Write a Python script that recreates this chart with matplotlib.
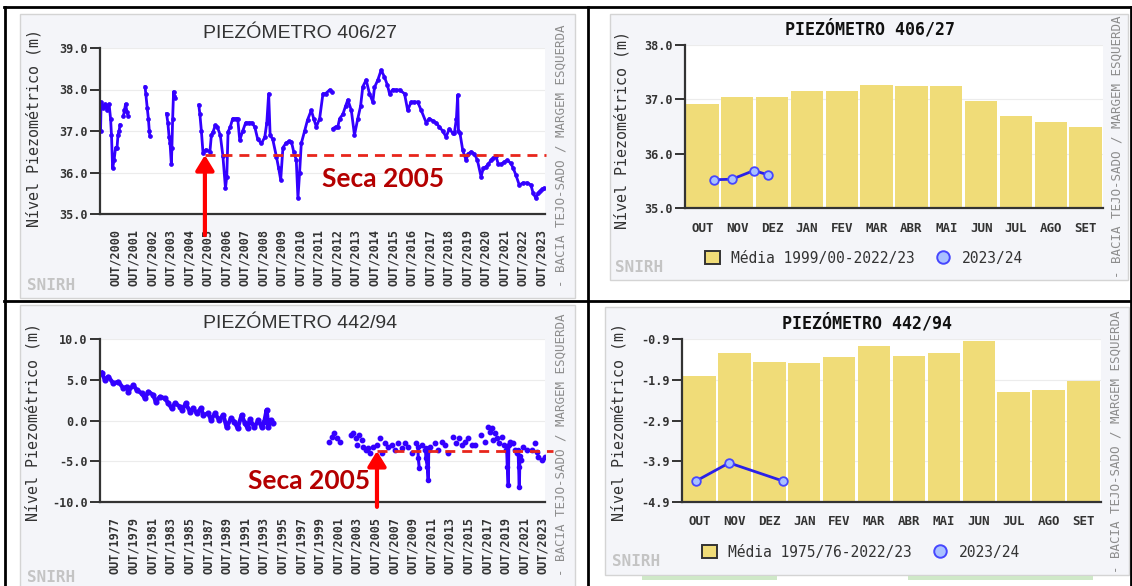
import matplotlib
matplotlib.use('Agg')
import matplotlib.pyplot as plt
from matplotlib.patches import Rectangle, Patch
from matplotlib.lines import Line2D

plt.rcParams['font.family'] = ['DejaVu Sans Mono']

# ---------------- DATA ----------------
# Piezometro 406/27 (time axis: value Y == OUT/Y)
p406_a_t = [1999.22, 1999.25, 1999.35, 1999.46, 1999.57, 1999.68, 1999.76, 1999.81, 1999.87, 1999.95, 2000.03, 2000.11, 2000.16, 2000.22, 2000.27]
p406_a_v = [37.0, 37.7, 37.55, 37.65, 37.5, 37.65, 37.3, 36.9, 36.1, 36.3, 36.6, 36.6, 36.9, 37.0, 37.15]
p406_b_t = [2000.45, 2000.51, 2000.57, 2000.65, 2000.72]
p406_b_v = [37.35, 37.5, 37.65, 37.45, 37.35]
p406_c_t = [2001.62, 2001.66, 2001.74, 2001.80, 2001.85, 2001.88]
p406_c_v = [38.07, 37.9, 37.55, 37.3, 37.0, 36.88]
p406_d_t = [2002.78, 2002.85, 2002.92, 2002.97, 2003.04, 2003.07, 2003.11, 2003.16, 2003.20, 2003.24]
p406_d_v = [37.42, 37.2, 36.85, 36.7, 36.2, 36.6, 37.3, 37.95, 37.85, 37.8]
p406_e_t = [2004.52, 2004.58, 2004.66, 2004.75, 2004.90, 2005.12, 2005.20, 2005.29, 2005.41, 2005.52,
            2005.68, 2005.82, 2005.96, 2006.03, 2006.10, 2006.22, 2006.35, 2006.52, 2006.62, 2006.73,
            2006.89, 2007.05, 2007.22, 2007.38, 2007.54, 2007.70, 2007.90, 2008.08, 2008.19, 2008.29,
            2008.37, 2008.51, 2008.71, 2008.83, 2008.94, 2009.06, 2009.21, 2009.37, 2009.52, 2009.64,
            2009.78, 2009.87, 2009.96, 2010.05, 2010.23, 2010.39, 2010.59, 2010.72, 2010.86, 2011.04,
            2011.22, 2011.36, 2011.58, 2011.69]
p406_e_v = [37.63, 37.4, 37.0, 36.46, 36.55, 36.5, 36.9, 36.98, 37.14, 37.1,
            36.9, 36.4, 35.62, 35.9, 36.98, 37.1, 37.3, 37.3, 37.3, 36.78,
            37.0, 37.2, 37.2, 37.2, 37.1, 36.8, 36.7, 36.85, 37.2, 37.9,
            36.9, 36.8, 36.38, 36.1, 35.82, 36.6, 36.7, 36.75, 36.74, 36.5,
            36.3, 35.38, 36.0, 36.7, 37.0, 37.27, 37.5, 37.3, 37.1, 37.3,
            37.9, 37.9, 37.99, 37.95]
p406_f_t = [2011.76, 2011.90, 2012.02, 2012.12, 2012.29, 2012.44, 2012.56, 2012.75, 2012.92, 2013.10,
            2013.25, 2013.37, 2013.55, 2013.73, 2013.91, 2014.00, 2014.18, 2014.36, 2014.54, 2014.70,
            2014.81, 2014.99, 2015.17, 2015.35, 2015.62, 2015.79, 2015.98, 2016.15, 2016.33, 2016.52,
            2016.79, 2016.96, 2017.14, 2017.32, 2017.50, 2017.68, 2017.86, 2018.04, 2018.22, 2018.31,
            2018.42, 2018.49, 2018.53, 2018.61, 2018.76, 2018.94, 2019.06, 2019.21, 2019.39, 2019.55,
            2019.75, 2019.87, 2020.02, 2020.14, 2020.29, 2020.41, 2020.55, 2020.68, 2020.82, 2021.00,
            2021.16, 2021.36, 2021.49, 2021.63, 2021.81, 2022.02, 2022.24, 2022.44, 2022.56, 2022.71,
            2022.83, 2022.94, 2023.05, 2023.16]
p406_f_v = [37.06, 37.1, 37.1, 37.3, 37.4, 37.6, 37.75, 37.5, 36.9, 37.3,
            37.6, 38.07, 38.23, 37.9, 37.7, 38.05, 38.23, 38.47, 38.3, 38.1,
            37.9, 38.0, 37.99, 37.99, 37.9, 37.5, 37.7, 37.7, 37.7, 37.5,
            37.2, 37.3, 37.25, 37.2, 37.1, 37.0, 36.86, 37.05, 36.95, 36.95,
            37.3, 37.87, 37.0, 36.95, 36.54, 36.3, 36.45, 36.5, 36.45, 36.3,
            35.9, 36.1, 36.14, 36.2, 36.3, 36.35, 36.4, 36.2, 36.2, 36.25,
            36.3, 36.22, 36.1, 35.94, 35.7, 35.75, 35.75, 35.7, 35.5, 35.38,
            35.5, 35.55, 35.6, 35.62]
p406_years = list(range(2000, 2024))
p406_seca = 36.42
p406_seca_start = 2004.85

# Piezometro 442/94
p442_a_t = [1975.57, 1975.92, 1976.28, 1976.82, 1977.36, 1977.90, 1978.25, 1978.43, 1978.97, 1979.33,
            1979.87, 1980.22, 1980.58, 1981.12, 1981.37, 1981.84, 1982.37, 1982.73, 1983.09, 1983.45,
            1983.99, 1984.24, 1984.60, 1985.06, 1985.42, 1985.78, 1986.24, 1986.49, 1987.03, 1987.32,
            1987.75, 1988.18, 1988.64, 1989.00, 1989.47, 1989.83, 1990.18, 1990.61, 1990.97, 1991.26,
            1991.51, 1991.98, 1992.41, 1992.77, 1993.05, 1993.30, 1993.48, 1993.73, 1994.02]
p442_a_v = [5.87, 4.97, 5.38, 4.56, 4.76, 3.95, 4.15, 3.54, 4.36, 3.74,
            3.33, 2.72, 3.54, 3.13, 2.31, 2.92, 2.72, 2.11, 1.49, 2.11,
            1.70, 1.29, 2.11, 1.08, 1.49, 0.88, 1.49, 0.67, 0.88, 0.06,
            0.88, 0.06, 0.67, -0.84, 0.27, -0.14, -0.96, 0.67, -0.35, -0.96,
            0.14, -0.84, 0.06, -0.84, -0.14, 1.29, -0.76, 0.06, -0.35]
p442_b_t = [2000.03, 2000.28, 2000.53, 2000.82, 2001.18, 2002.33, 2002.61, 2002.90, 2003.04, 2003.26,
            2003.51, 2003.69, 2003.97, 2004.23, 2004.40, 2004.76, 2005.12, 2005.48, 2005.66, 2006.02,
            2006.37, 2006.73, 2007.09, 2007.45, 2007.81, 2008.17, 2008.52, 2008.88, 2009.35, 2009.96,
            2010.32, 2010.85, 2011.39, 2011.75, 2012.11, 2012.47, 2012.82, 2013.36, 2013.65, 2014.00,
            2014.26, 2014.62, 2014.97, 2015.33, 2015.69, 2016.30, 2016.77, 2017.12, 2017.30, 2017.48,
            2017.66, 2017.84, 2018.09, 2018.31, 2018.56, 2018.81, 2019.02, 2019.45, 2019.74, 2019.99,
            2020.24, 2020.60, 2020.81, 2021.24, 2021.78, 2022.14, 2022.32, 2022.50, 2022.86, 2023.21]
p442_b_v = [-2.6, -1.98, -1.49, -2.19, -2.6, -1.78, -1.58, -2.19, -3.0, -1.78,
            -2.39, -3.21, -3.62, -3.42, -4.03, -3.21, -3.0, -2.19, -4.03, -2.8,
            -3.21, -3.0, -3.62, -2.8, -3.42, -2.8, -3.21, -4.03, -2.8, -3.0,
            -3.62, -3.21, -2.8, -3.62, -2.6, -3.0, -4.03, -1.98, -2.8, -2.19,
            -3.0, -2.6, -2.19, -3.0, -3.0, -1.78, -2.6, -0.76, -1.37, -0.96,
            -2.39, -1.58, -2.19, -2.8, -1.98, -3.0, -3.62, -2.6, -2.8, -3.62,
            -4.03, -4.85, -3.21, -3.62, -3.62, -2.8, -3.83, -4.44, -4.85, -4.44]
p442_dip1_t = [2009.55, 2009.60, 2009.71]
p442_dip1_v = [-3.2, -4.64, -5.87]
p442_dip2_t = [2010.38, 2010.42, 2010.57, 2010.67, 2010.72]
p442_dip2_v = [-3.4, -4.64, -5.66, -7.3, -3.6]
p442_dip3_t = [2019.10, 2019.17, 2019.27, 2019.33]
p442_dip3_v = [-3.3, -5.66, -7.92, -3.0]
p442_dip4_t = [2020.33, 2020.39, 2020.46, 2020.52]
p442_dip4_v = [-3.6, -5.66, -8.12, -4.4]
p442_years = list(range(1977, 2024, 2))
p442_seca = -3.74
p442_seca_start = 2005.16

months = ['OUT', 'NOV', 'DEZ', 'JAN', 'FEV', 'MAR', 'ABR', 'MAI', 'JUN', 'JUL', 'AGO', 'SET']
p406_media = [36.91, 37.05, 37.05, 37.16, 37.16, 37.26, 37.245, 37.245, 36.97, 36.69, 36.58, 36.50]
p406_obs_x = [0.33, 0.85, 1.48, 1.88]
p406_obs_v = [35.52, 35.53, 35.69, 35.61]
p442_media = [-1.80, -1.24, -1.457, -1.497, -1.35, -1.064, -1.317, -1.25, -0.95, -2.19, -2.15, -1.94]
p442_obs_x = [-0.10, 0.85, 2.39]
p442_obs_v = [-4.385, -3.94, -4.385]

# ---------------- STYLE ----------------
W, H = 1132, 586
PANEL = '#f4f5f9'
DARK = '#333333'
BLUE = '#3300ff'
BAR = '#f0dc78'
MONO = 'DejaVu Sans Mono'

fig = plt.figure(figsize=(W / 100, H / 100), dpi=100)
fig.patch.set_facecolor('white')


def frac(x0, y0, x1, y1):
    return [x0 / W, 1 - y1 / H, (x1 - x0) / W, (y1 - y0) / H]


def ftext(x, y, s, **kw):
    return fig.text(x / W, 1 - y / H, s, **kw)


bg = fig.add_axes([0, 0, 1, 1], zorder=0)
bg.set_xlim(0, W)
bg.set_ylim(H, 0)
bg.axis('off')

# panel backgrounds
for (x0, y0, x1, y1) in [(20, 14, 575, 298), (610, 14, 1128, 280), (20, 305, 575, 590), (605, 307, 1129, 575)]:
    bg.add_patch(Rectangle((x0, y0), x1 - x0, y1 - y0, facecolor=PANEL, edgecolor='#d4d4d4', lw=1))
# light green strip under bottom-right panel
for (x0, x1) in [(642, 777), (908, 1093)]:
    bg.add_patch(Rectangle((x0, 576), x1 - x0, 4, facecolor='#cfe8c8', edgecolor='none'))
# table borders
bg.plot([4, 1131], [7, 7], color='black', lw=2)
bg.plot([5, 5], [7, 586], color='black', lw=2)
bg.plot([4, 1131], [301, 301], color='black', lw=2)
bg.plot([588, 588], [7, 586], color='black', lw=2)
bg.plot([1131, 1131], [7, 586], color='black', lw=2)


def style_axes(ax, xpad):
    ax.set_facecolor('white')
    for s in ['top', 'right']:
        ax.spines[s].set_visible(False)
    for s in ['left', 'bottom']:
        ax.spines[s].set_color(DARK)
        ax.spines[s].set_linewidth(1.6)
    ax.tick_params(axis='y', length=7, width=1.4, color=DARK, pad=2, labelsize=8.5, labelcolor=DARK)
    ax.tick_params(axis='x', length=0, pad=xpad, labelsize=8.5, labelcolor=DARK)
    ax.grid(axis='y', color='#ececec', lw=0.8)
    ax.set_axisbelow(True)
    for lbl in ax.get_yticklabels() + ax.get_xticklabels():
        lbl.set_fontfamily(MONO)
        lbl.set_fontweight('bold')


def side_texts(xc_label, yc_label, xc_side, yc_side, x_snirh, y_snirh):
    ftext(xc_label, yc_label, 'Nível Piezométrico (m)', rotation=90, ha='center', va='center',
          fontsize=10.8, color=DARK, family=MONO)
    ftext(xc_side, yc_side, '- BACIA TEJO-SADO / MARGEM ESQUERDA', rotation=90, ha='center', va='center',
          fontsize=9, color='#8c8c8c', family=MONO)
    ftext(x_snirh, y_snirh, 'SNIRH', ha='left', va='center', fontsize=11.5, color='#c4c4c4',
          family=MONO, fontweight='bold')


# ---------------- TOP-LEFT: time series 406/27 ----------------
ax1 = fig.add_axes(frac(100, 48, 545, 214), zorder=2)
for t, v in [(p406_a_t, p406_a_v), (p406_b_t, p406_b_v), (p406_c_t, p406_c_v),
             (p406_d_t, p406_d_v), (p406_e_t, p406_e_v), (p406_f_t, p406_f_v)]:
    ax1.plot(t, v, '-o', color=BLUE, lw=2.0, ms=2.8, mec=BLUE, mew=0.5)
ax1.set_xlim(1999.19, 2023.2)
ax1.set_ylim(35, 39)
ax1.set_yticks([35, 36, 37, 38, 39])
ax1.set_yticklabels([f'{v:.1f}' for v in [35, 36, 37, 38, 39]])
ax1.set_xticks(p406_years)
ax1.set_xticklabels([f'OUT/{y}' for y in p406_years], rotation=90)
style_axes(ax1, 11)
ax1.plot([p406_seca_start, 2023.26], [p406_seca, p406_seca], color='#e8261c', lw=2, dashes=[3.6, 2.5],
         clip_on=False, zorder=5)
ax1.annotate('', xy=(p406_seca_start, p406_seca), xytext=(p406_seca_start, -0.127),
             xycoords='data', textcoords=('data', 'axes fraction'), annotation_clip=False,
             arrowprops=dict(arrowstyle='-|>,head_width=0.55,head_length=0.9', mutation_scale=10,
                             lw=3, color='#ff0000', shrinkA=0, shrinkB=0), zorder=6)
ftext(322, 187, 'Seca 2005', ha='left', va='baseline', fontsize=19, color='#b40000',
      family='Lato', fontweight='bold')
ftext(300, 33, 'PIEZÓMETRO 406/27', ha='center', va='center', fontsize=14, color=DARK, family='Liberation Sans')
side_texts(34, 128, 561, 156, 27, 285)

# ---------------- BOTTOM-LEFT: time series 442/94 ----------------
ax3 = fig.add_axes(frac(100, 339, 545, 502), zorder=2)
ax3.plot(p442_a_t, p442_a_v, '-o', color=BLUE, lw=3.0, ms=3.4, mec=BLUE)
ax3.plot(p442_b_t, p442_b_v, 'o', color=BLUE, ms=3.2, mec=BLUE)
for t, v in [(p442_dip1_t, p442_dip1_v), (p442_dip2_t, p442_dip2_v),
             (p442_dip3_t, p442_dip3_v), (p442_dip4_t, p442_dip4_v)]:
    ax3.plot(t, v, '-o', color=BLUE, lw=2.2, ms=3.0, mec=BLUE)
ax3.set_xlim(1975.39, 2023.22)
ax3.set_ylim(-10, 10)
ax3.set_yticks([-10, -5, 0, 5, 10])
ax3.set_yticklabels([f'{v:.1f}' for v in [-10, -5, 0, 5, 10]])
ax3.set_xticks(p442_years)
ax3.set_xticklabels([f'OUT/{y}' for y in p442_years], rotation=90)
style_axes(ax3, 11)
ax3.plot([p442_seca_start, 2024.08], [p442_seca, p442_seca], color='#e8261c', lw=2, dashes=[3.6, 2.5],
         clip_on=False, zorder=5)
ax3.annotate('', xy=(p442_seca_start, p442_seca), xytext=(p442_seca_start, -0.03),
             xycoords='data', textcoords=('data', 'axes fraction'), annotation_clip=False,
             arrowprops=dict(arrowstyle='-|>,head_width=0.55,head_length=0.9', mutation_scale=10,
                             lw=3, color='#ff0000', shrinkA=0, shrinkB=0), zorder=6)
ftext(248, 489, 'Seca 2005', ha='left', va='baseline', fontsize=19, color='#b40000',
      family='Lato', fontweight='bold')
ftext(300, 323, 'PIEZÓMETRO 442/94', ha='center', va='center', fontsize=14, color=DARK, family='Liberation Sans')
side_texts(33, 422, 561, 445, 27, 577)


# ---------------- RIGHT: monthly bars ----------------
def bar_panel(rect, media, obs_x, obs_v, ylim, yticks, title, title_xy, legend_label, legend_xy,
              label_xy, side_xy, snirh_xy, xpad):
    ax = fig.add_axes(frac(*rect), zorder=2)
    base = ylim[0]
    ax.bar(range(12), [m - base for m in media], bottom=base, width=0.93, color=BAR,
           edgecolor='none', zorder=2)
    ax.plot(obs_x, obs_v, '-o', color='#2a20e8', lw=2, ms=6.2, mfc='#a9c1ff', mec='#4646ff', mew=1.3, zorder=3)
    ax.set_xlim(-0.5, 11.5)
    ax.set_ylim(*ylim)
    ax.set_yticks(yticks)
    ax.set_yticklabels([f'{v:.1f}' for v in yticks])
    ax.set_xticks(range(12))
    ax.set_xticklabels(months)
    style_axes(ax, xpad)
    for lbl in ax.get_xticklabels():
        lbl.set_fontsize(9)
    ftext(title_xy[0], title_xy[1], title, ha='center', va='center', fontsize=12, color='#111111',
          family=MONO, fontweight='bold')
    handles = [Patch(facecolor=BAR, edgecolor=DARK, lw=1.4),
               Line2D([], [], marker='o', ls='none', ms=9, mfc='#a9c1ff', mec='#4646ff', mew=1.4)]
    fig.legend(handles, [legend_label, '2023/24'], loc='center left',
               bbox_to_anchor=(legend_xy[0] / W, 1 - legend_xy[1] / H), ncol=2, frameon=False,
               handlelength=1.0, handleheight=1.0, handletextpad=0.8, columnspacing=1.4,
               borderpad=0, borderaxespad=0, prop={'family': MONO, 'size': 10.5}, labelcolor=DARK)
    side_texts(label_xy[0], label_xy[1], side_xy[0], side_xy[1], snirh_xy[0], snirh_xy[1])
    return ax


bar_panel((685, 45, 1103, 208), p406_media, p406_obs_x, p406_obs_v, (35, 38), [35, 36, 37, 38],
          'PIEZÓMETRO 406/27', (870, 29), 'Média 1999/00-2022/23', (705, 258),
          (622, 130), (1117, 147), (615, 267), 10)
bar_panel((682, 339, 1101, 502), p442_media, p442_obs_x, p442_obs_v, (-4.9, -0.9),
          [-4.9, -3.9, -2.9, -1.9, -0.9],
          'PIEZÓMETRO 442/94', (867, 323), 'Média 1975/76-2022/23', (702, 552),
          (619, 422), (1116, 442), (612, 562), 9.5)

fig.savefig('out.png', dpi=100, facecolor='white')
